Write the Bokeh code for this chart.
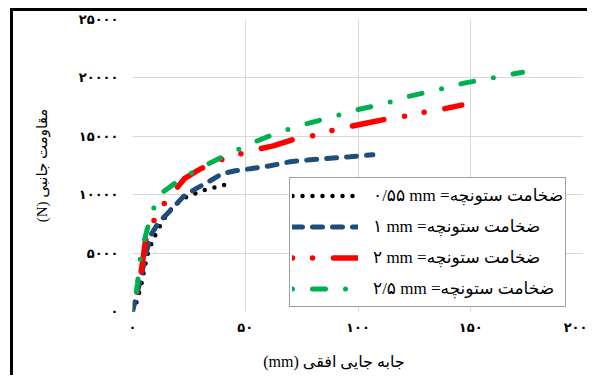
from bokeh.plotting import figure
from bokeh.models import Legend, LegendItem, FixedTicker
from bokeh.embed import file_html
from bokeh.resources import INLINE

# ---- data ----
x_055 = [0, 2, 4, 6.5, 8, 9.5, 11.5, 16, 22, 31, 35, 39.5, 44]
y_055 = [0, 900, 2400, 4800, 5600, 6300, 7100, 8550, 9650, 10350, 10550, 10800, 10950]

x_1 = [0, 1.3, 3.5, 5.8, 8, 11.5, 16.8, 22.6, 28, 32.3, 39.8, 45.6, 52.2, 61.1, 69.9, 78.8, 87.6, 96.5, 106.6]
y_1 = [0, 1000, 2700, 4800, 6500, 7600, 8650, 9850, 10500, 10950, 11800, 12050, 12220, 12480, 12820, 12990, 13120, 13250, 13420]

x_2 = [0, 2.2, 3.5, 5.8, 8.8, 13.3, 17.7, 23, 30, 38, 46, 54.4, 62.4, 70.8, 79.6, 87.6, 95.6, 104, 112.8, 121.2, 129, 137.6, 146]
y_2 = [0, 1830, 2940, 6090, 7540, 9070, 10090, 11370, 12200, 12900, 13410, 13840, 14180, 14690, 15030, 15460, 15800, 16140, 16480, 16740, 17050, 17330, 17670]

x_25 = [0, 1, 2.2, 3.5, 5, 7, 9.5, 12.5, 19, 30, 41, 52, 63, 75, 87, 99, 111, 123, 134.5, 147, 159, 173]
y_25 = [0, 700, 2400, 4600, 5900, 7400, 8900, 10100, 11000, 12300, 13330, 14350, 15200, 15970, 16570, 17250, 17760, 18440, 18950, 19550, 19970, 20490]

series_labels = [
    "۰/۵۵ mm =ضخامت ستونچه",
    "۱ mm =ضخامت ستونچه",
    "۲ mm =ضخامت ستونچه",
    "۲/۵ mm =ضخامت ستونچه",
]

x_ticks = [0, 50, 100, 150, 200]
x_tick_labels = ["۰", "۵۰", "۱۰۰", "۱۵۰", "۲۰۰"]
y_ticks = [0, 5000, 10000, 15000, 20000, 25000]
y_tick_labels = ["۰", "۵۰۰۰", "۱۰۰۰۰", "۱۵۰۰۰", "۲۰۰۰۰", "۲۵۰۰۰"]

x_title = "(mm) جابه جایی افقی" + "\u00a0" * 12
y_title = "(N) مقاومت جانبی"

SERIF = "'Liberation Serif', 'DejaVu Sans'"

p = figure(
    frame_width=451, frame_height=292,
    min_border_left=119, min_border_right=4,
    min_border_top=8, min_border_bottom=64,
    x_range=(0, 200), y_range=(0, 25000),
    output_backend="svg", toolbar_location=None,
)
p.styles = {
    "margin-left": "10px", "margin-top": "8px",
    "border-left": "3px solid black", "border-top": "3px solid black",
}
p.outline_line_color = None
p.background_fill_color = "white"
p.border_fill_color = "white"

p.xaxis.ticker = FixedTicker(ticks=x_ticks)
p.yaxis.ticker = FixedTicker(ticks=y_ticks)
p.xaxis.major_label_overrides = dict(zip(x_ticks, x_tick_labels))
p.yaxis.major_label_overrides = dict(zip(y_ticks, y_tick_labels))

for ax in (p.xaxis, p.yaxis):
    ax.axis_line_color = None
    ax.major_tick_line_color = None
    ax.minor_tick_line_color = None
    ax.major_label_text_font = "DejaVu Sans"
    ax.major_label_text_font_size = "13px"
    ax.major_label_text_font_style = "bold"
    ax.major_label_text_color = "black"
    ax.axis_label_text_font = SERIF
    ax.axis_label_text_font_style = "normal"
    ax.axis_label_text_color = "black"

p.xaxis.axis_label_text_font_size = "16px"
p.yaxis.axis_label_text_font_size = "15px"
p.xaxis.major_label_standoff = 2
p.yaxis.major_label_standoff = 8
p.xaxis.axis_label = x_title
p.yaxis.axis_label = y_title
p.xaxis.axis_label_standoff = 15
p.yaxis.axis_label_standoff = 26

p.grid.grid_line_color = "#D9D9D9"
p.grid.grid_line_width = 1

r1 = p.line(x_055, y_055, line_color="black", line_width=4.5, line_dash="0 10", line_cap="round")
r2 = p.line(x_1, y_1, line_color="#1F4E79", line_width=5, line_dash="10 10", line_cap="round")
r3 = p.line(x_2, y_2, line_color="#FF0000", line_width=5.5, line_dash="0 20 0 21 32 21", line_cap="round")
r4 = p.line(x_25, y_25, line_color="#00B050", line_width=5, line_dash="0 20 13 20", line_cap="round")

legend = Legend(
    items=[LegendItem(label=lab, renderers=[r]) for lab, r in zip(series_labels, [r1, r2, r3, r4])],
    location=(157, 4),
    padding=2, spacing=0, margin=0,
    glyph_width=66, glyph_height=31, label_height=31, label_width=190,
    label_standoff=15,
    label_text_font=SERIF, label_text_font_size="17px", label_text_color="black",
    border_line_color="#404040", border_line_width=1,
    background_fill_color="white", background_fill_alpha=1,
)
p.add_layout(legend, "center")

open("out.html", "w").write(file_html(p, INLINE))
